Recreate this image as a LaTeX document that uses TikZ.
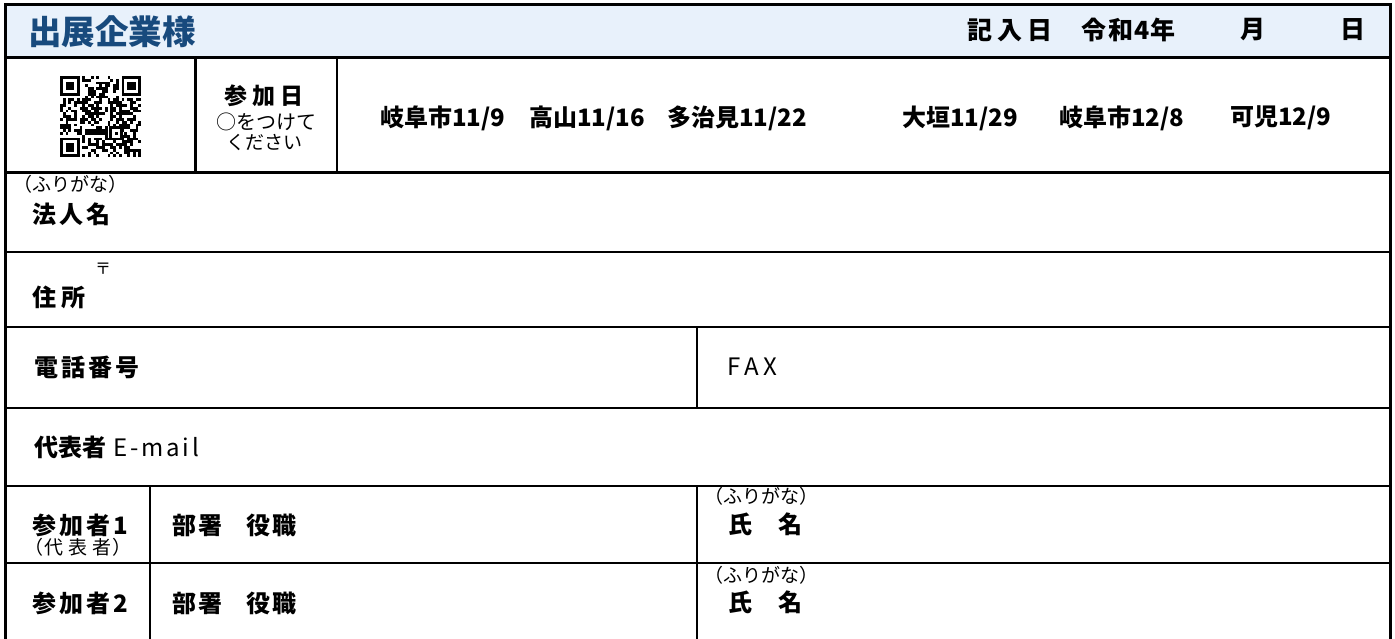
\documentclass[tikz,border=0pt]{standalone}
\usepackage{fontspec}
\setmainfont{Noto Sans CJK JP}
\definecolor{headbg}{RGB}{232,241,251}
\definecolor{titleblue}{RGB}{24,74,125}
\begin{document}
\begin{tikzpicture}[x=1pt,y=-1pt,
  thick line/.style={line width=3pt},
  thin line/.style={line width=1.5pt},
  lbl/.style={inner sep=0pt, anchor=west, font=\fontsize{24}{24}\selectfont\bfseries},
  reg/.style={inner sep=0pt, anchor=west, font=\fontsize{24}{24}\selectfont},
  kana/.style={inner sep=0pt, anchor=west, font=\fontsize{19}{19}\selectfont},
  datelbl/.style={inner sep=0pt, anchor=west, font=\fontsize{24}{24}\selectfont\bfseries},
  headlbl/.style={inner sep=0pt, anchor=west, font=\fontsize{25}{25}\selectfont\bfseries}]
\useasboundingbox (0,0) rectangle (1395,639);
% header band
\fill[headbg] (5,5) rectangle (1390,58);
% grid
\draw[thick line] (5,639) -- (5,5) -- (1390,5) -- (1390,639);
\draw[thick line] (5,58) -- (1390,58);
\draw[thick line] (5,173) -- (1390,173);
\draw[thick line] (195,58) -- (195,173);
\draw[thin line] (337,58) -- (337,173);
\foreach \yy in {252,327,408,486,563} \draw[thin line] (5,\yy) -- (1390,\yy);
\draw[thin line] (697,327) -- (697,408);
\draw[thin line] (697,486) -- (697,639);
\draw[thin line] (150,486) -- (150,639);
% title
\node[inner sep=0pt, anchor=west, text=titleblue, font=\fontsize{33.5}{33.5}\selectfont\bfseries] (title) at (28,32) {出展企業様};
\node[headlbl] (kinyu) at (967,30) {記\hspace{5pt}入\hspace{5pt}日};
\node[headlbl] (reiwa) at (1081,30) {令\hspace{2pt}和\hspace{1pt}4\hspace{1pt}年};
\node[headlbl] (tsuki) at (1240,30) {月};
\node[headlbl] (hi) at (1340,30) {日};
% QR code (29 x 29 modules)
\pgfmathsetseed{2022}
\foreach \i in {0,...,28}{
  \foreach \j in {0,...,28}{
    \pgfmathrandominteger{\r}{0}{1}
    \ifnum\r=1 \fill ({60+\i*2.8},{76+\j*2.8}) rectangle ++(2.85,2.85);\fi
  }
}
\fill[white] (57.2,73.2) rectangle ++(25.2,25.2);
\fill[white] (118.6,73.2) rectangle ++(25.2,25.2);
\fill[white] (57.2,134.6) rectangle ++(25.2,25.2);
\foreach \fx/\fy in {60/76, 121.6/76, 60/137.6}{
  \fill (\fx,\fy) rectangle ++(19.6,19.6);
  \fill[white] (\fx+2.8,\fy+2.8) rectangle ++(14,14);
  \fill (\fx+5.6,\fy+5.6) rectangle ++(8.4,8.4);
}
\fill (109.2,126.4) rectangle ++(14,14);
\fill[white] (112,129.2) rectangle ++(8.4,8.4);
\fill (114.8,132) rectangle ++(2.8,2.8);
% participation day
\node[inner sep=0pt, font=\fontsize{23}{23}\selectfont\bfseries] (sanka) at (264,96) {参\hspace{5pt}加\hspace{5pt}日};
\node[inner sep=0pt, font=\fontsize{20}{20}\selectfont] (maru) at (266,122) {○をつけて};
\node[inner sep=0pt, font=\fontsize{19}{19}\selectfont] (kudasai) at (264,142) {ください};
% dates
\node[datelbl] (d1) at (380,118) {岐阜市11/9};
\node[datelbl] (d2) at (529,118) {高山11/16};
\node[datelbl] (d3) at (667,118) {多治見11/22};
\node[datelbl] (d4) at (902,118) {大垣11/29};
\node[datelbl] (d5) at (1059,118) {岐阜市12/8};
\node[datelbl] (d6) at (1230,118) {可児12/9};
% company name
\node[kana] (furi1) at (13,184) {（ふりがな）};
\node[lbl] (hojin) at (32,214) {法\hspace{3pt}人\hspace{3pt}名};
% address
\node[inner sep=0pt, font=\fontsize{16}{16}\selectfont] (yubin) at (103,269) {〒};
\node[lbl] (jusho) at (32,297) {住\hspace{5pt}所};
% phone / fax
\node[lbl] (tel) at (34,367) {電\hspace{3pt}話\hspace{3pt}番\hspace{3pt}号};
\node[reg] (fax) at (727,367) {F\hspace{4pt}A\hspace{4pt}X};
% email
\node[lbl] (daihyo) at (34,447) {代表者\mdseries\hspace{7pt}\addfontfeature{LetterSpace=12}E-mail};
% participants
\node[lbl] (p1) at (32,525) {参\hspace{3pt}加\hspace{3pt}者\hspace{3pt}1};
\node[inner sep=0pt, anchor=west, font=\fontsize{19}{19}\selectfont] (p1sub) at (24,547) {（\hspace{1pt}代\hspace{5pt}表\hspace{5pt}者\hspace{1pt}）};
\node[lbl] (b1) at (172,525) {部\hspace{2pt}署\hspace{24pt}役\hspace{2pt}職};
\node[kana] (furi2) at (704,496) {（ふりがな）};
\node[lbl] (shi1) at (728,524) {氏\hspace{26pt}名};
\node[lbl] (p2) at (32,603) {参\hspace{3pt}加\hspace{3pt}者\hspace{3pt}2};
\node[lbl] (b2) at (172,603) {部\hspace{2pt}署\hspace{24pt}役\hspace{2pt}職};
\node[kana] (furi3) at (704,575) {（ふりがな）};
\node[lbl] (shi2) at (728,602) {氏\hspace{26pt}名};
\end{tikzpicture}
\end{document}
